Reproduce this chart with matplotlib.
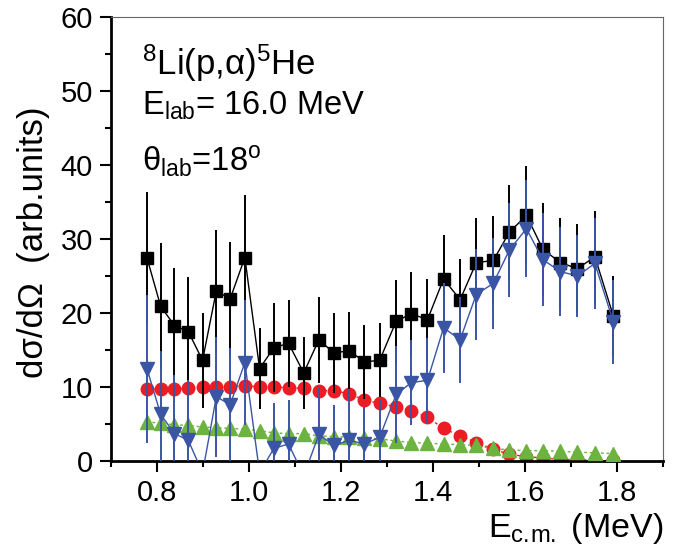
import matplotlib
matplotlib.use("Agg")
import matplotlib.pyplot as plt
from matplotlib.ticker import MultipleLocator, FormatStrFormatter

# energies (MeV, c.m.)
e_cm = [0.778, 0.808, 0.838, 0.868, 0.899, 0.929, 0.959, 0.991, 1.023, 1.054,
        1.086, 1.119, 1.152, 1.184, 1.218, 1.251, 1.284, 1.320, 1.353, 1.388,
        1.423, 1.459, 1.494, 1.531, 1.566, 1.603, 1.639, 1.677, 1.714, 1.752,
        1.792]

# total (black squares)
total = [27.5, 20.9, 18.3, 17.5, 13.6, 23.0, 21.9, 27.5, 12.5, 15.3,
         15.9, 11.9, 16.4, 14.6, 14.9, 13.4, 13.6, 18.9, 19.9, 19.1,
         24.6, 21.8, 26.8, 27.1, 30.9, 33.2, 28.6, 26.8, 26.0, 27.6,
         19.6]
total_err = [8.8, 8.5, 7.8, 7.3, 6.4, 8.2, 7.7, 8.4, 5.5, 6.0,
             5.9, 4.9, 5.8, 5.4, 5.3, 5.0, 5.0, 5.6, 5.6, 5.5,
             6.0, 5.5, 6.1, 6.0, 6.4, 6.7, 6.3, 6.0, 6.0, 6.2,
             5.4]

# difference (blue down triangles)
diff = [12.5, 6.3, 3.7, 2.8, -1.6, 8.7, 7.6, 13.3, -1.6, 1.7,
        2.3, -2.0, 3.6, 2.1, 2.8, 2.3, 3.2, 9.0, 10.6, 10.9,
        18.0, 16.4, 22.5, 24.0, 28.5, 31.4, 27.2, 25.6, 25.0, 26.7,
        18.8]
diff_err = [10.0, 8.5, 7.9, 8.1, 0.5, 8.1, 7.7, 8.5, 0.5, 6.1,
            5.9, 0.5, 6.2, 5.5, 6.9, 5.0, 5.0, 6.5, 5.7, 5.7,
            6.1, 5.8, 6.1, 6.1, 6.4, 6.6, 6.3, 6.0, 5.6, 6.2,
            5.7]

# red circles
red = [9.7, 9.7, 9.7, 9.8, 10.0, 10.0, 10.0, 10.2, 10.0, 10.0,
       9.9, 9.8, 9.5, 9.5, 9.1, 8.2, 7.8, 7.3, 6.8, 5.9,
       4.4, 3.4, 2.5, 1.6, 0.9, 0.6, 0.4, 0.2, 0.2, 0.1,
       0.1]

# green up triangles
green = [5.3, 5.1, 4.9, 4.8, 4.6, 4.5, 4.4, 4.3, 4.1, 3.8,
         3.7, 3.7, 3.4, 3.3, 3.2, 3.1, 3.0, 2.7, 2.5, 2.4,
         2.3, 2.2, 2.1, 1.7, 1.5, 1.4, 1.4, 1.3, 1.2, 1.1,
         1.0]

plt.rcParams['font.family'] = ['Liberation Sans', 'DejaVu Sans']
plt.rcParams['mathtext.fontset'] = 'custom'
plt.rcParams['mathtext.rm'] = 'Liberation Sans'
plt.rcParams['mathtext.it'] = 'Liberation Sans:italic'

fig = plt.figure(figsize=(6.94, 5.52), dpi=100)
ax = fig.add_axes([111/694, 1 - 461/552, (663 - 111)/694, (461 - 17)/552])

c_red = '#ec1c24'
c_green = '#6cb33f'
c_blue = '#3a55a4'

ax.plot(e_cm, red, color=c_red, ls=(0, (2, 2)), lw=1, marker='o', ms=9,
        mec=c_red, mfc=c_red, zorder=2)
ax.plot(e_cm, green, color=c_green, ls=(0, (2, 2)), lw=1, marker='^', ms=9.5,
        mec=c_green, mfc=c_green, zorder=3)
ax.errorbar(e_cm, total, yerr=total_err, color='black', lw=1, elinewidth=1.4,
            marker='s', ms=9, capsize=0, zorder=4)
ax.errorbar(e_cm, diff, yerr=diff_err, color=c_blue, lw=1, elinewidth=1.4,
            marker='v', ms=10, capsize=0, zorder=5)

ax.set_xlim(0.7, 1.9)
ax.set_ylim(0, 60)
ax.xaxis.set_major_locator(MultipleLocator(0.2))
ax.xaxis.set_minor_locator(MultipleLocator(0.1))
ax.yaxis.set_major_locator(MultipleLocator(10))
ax.yaxis.set_minor_locator(MultipleLocator(5))
ax.tick_params(which='major', direction='out', length=8, width=1.5, labelsize=21,
               pad=5, top=False, right=False)
ax.tick_params(which='minor', direction='out', length=4.5, width=1.5,
               top=False, right=False)
ax.xaxis.set_major_formatter(FormatStrFormatter('%.1f'))

for s in ['left', 'bottom']:
    ax.spines[s].set_linewidth(2)
for s in ['top', 'right']:
    ax.spines[s].set_linewidth(0.8)
    ax.spines[s].set_color('#666666')

fig.text(142/694, 1 - 75/552, r'$\mathregular{^{8}}$Li(p,α)$\mathregular{^{5}}$He',
         fontsize=25, va='baseline')
fig.text(142/694, 1 - 115/552, r'$\mathregular{E_{lab}}$= 16.0 MeV', fontsize=23.5,
         va='baseline')
fig.text(142/694, 1 - 171/552, r'$\mathregular{θ_{lab}}$=18$\mathregular{^{o}}$',
         fontsize=23.5, va='baseline')

fig.text(34/694, 1 - 242/552, 'dσ/dΩ  (arb.units)', fontsize=25,
         rotation=90, ha='center', va='center')
fig.text(663/694, 1 - 537/552, r'E$\mathregular{_{c.\!m.}}$ (MeV)', fontsize=24.5,
         ha='right', va='baseline')

fig.savefig("out.png", dpi=100)
